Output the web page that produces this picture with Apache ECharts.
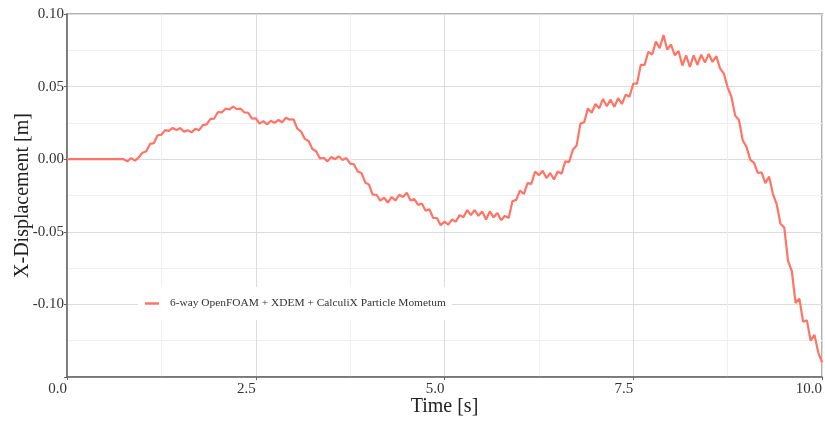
<!DOCTYPE html>
<html>
<head>
<meta charset="utf-8">
<script src="https://cdn.jsdelivr.net/npm/echarts@6/dist/echarts.min.js"></script>
<style>
html,body{margin:0;padding:0;background:#fff;}
#chart{width:825px;height:421px;}
</style>
</head>
<body>
<div id="chart"></div>
<script>
const seriesName = '6-way OpenFOAM + XDEM + CalculiX Particle Mometum';
const xTicks = [0, 2.5, 5, 7.5, 10];
const yTicks = [-0.10, -0.05, 0.00, 0.05, 0.10];

const timeS = [
0.00,0.75,0.80,0.85,0.90,0.95,
1.00,1.05,1.10,1.15,1.20,1.25,1.30,1.35,1.40,1.45,1.50,1.55,1.60,1.65,1.70,1.75,1.80,1.85,1.90,1.95,
2.00,2.05,2.10,2.15,2.20,2.25,2.30,2.35,2.40,2.45,2.50,2.55,2.60,2.65,2.70,2.75,2.80,2.85,2.90,2.95,
3.00,3.05,3.10,3.15,3.20,3.25,3.30,3.35,3.40,3.45,3.50,3.55,3.60,3.65,3.70,3.75,3.80,3.85,3.90,3.95,
4.00,4.05,4.10,4.15,4.20,4.25,4.30,4.35,4.40,4.45,4.50,4.55,4.60,4.65,4.70,4.75,4.80,4.85,4.90,4.95,
5.00,5.05,5.10,5.15,5.20,5.25,5.30,5.35,5.40,5.45,5.50,5.55,5.60,5.65,5.70,5.75,5.80,5.85,5.90,5.95,
6.00,6.05,6.10,6.15,6.20,6.25,6.30,6.35,6.40,6.45,6.50,6.55,6.60,6.65,6.70,6.75,6.80,6.85,6.90,6.95,
7.00,7.05,7.10,7.15,7.20,7.25,7.30,7.35,7.40,7.45,7.50,7.55,7.60,7.65,7.70,7.75,7.80,7.85,7.90,7.95,
8.00,8.05,8.10,8.15,8.20,8.25,8.30,8.35,8.40,8.45,8.50,8.55,8.60,8.65,8.70,8.75,8.80,8.85,8.90,8.95,
9.00,9.05,9.10,9.15,9.20,9.25,9.30,9.35,9.40,9.45,9.50,9.55,9.60,9.65,9.70,9.75,9.80,9.85,9.90,9.95,
10.00
];

const dispM = [
0.0000,0.0000,-0.0015,0.0008,-0.0010,0.0012,
0.0045,0.0055,0.0105,0.0110,0.0165,0.0168,0.0200,0.0195,0.0215,0.0200,0.0215,0.0190,0.0200,0.0185,0.0210,0.0200,0.0235,0.0240,0.0278,0.0280,
0.0325,0.0322,0.0348,0.0342,0.0362,0.0345,0.0348,0.0322,0.0320,0.0280,0.0282,0.0245,0.0262,0.0240,0.0265,0.0250,0.0270,0.0255,0.0285,0.0272,
0.0275,0.0210,0.0190,0.0140,0.0125,0.0070,0.0055,0.0005,0.0010,-0.0015,0.0015,0.0000,0.0020,-0.0005,0.0008,-0.0030,-0.0035,-0.0085,-0.0095,-0.0160,
-0.0175,-0.0245,-0.0245,-0.0285,-0.0265,-0.0300,-0.0260,-0.0285,-0.0245,-0.0260,-0.0230,-0.0285,-0.0275,-0.0315,-0.0305,-0.0355,-0.0345,-0.0405,-0.0405,-0.0455,
-0.0430,-0.0450,-0.0415,-0.0430,-0.0385,-0.0400,-0.0350,-0.0385,-0.0350,-0.0390,-0.0360,-0.0415,-0.0360,-0.0400,-0.0370,-0.0420,-0.0390,-0.0405,-0.0290,-0.0280,
-0.0215,-0.0240,-0.0165,-0.0170,-0.0085,-0.0110,-0.0080,-0.0130,-0.0095,-0.0140,-0.0085,-0.0100,-0.0015,-0.0020,0.0065,0.0095,0.0245,0.0255,0.0350,0.0320,
0.0380,0.0350,0.0415,0.0365,0.0410,0.0360,0.0420,0.0380,0.0445,0.0430,0.0520,0.0520,0.0650,0.0650,0.0740,0.0720,0.0810,0.0765,0.0855,0.0755,
0.0790,0.0715,0.0745,0.0645,0.0715,0.0635,0.0715,0.0650,0.0720,0.0665,0.0725,0.0670,0.0710,0.0625,0.0590,0.0495,0.0430,0.0300,0.0270,0.0130,
0.0085,-0.0005,-0.0025,-0.0095,-0.0090,-0.0165,-0.0120,-0.0240,-0.0310,-0.0445,-0.0470,-0.0700,-0.0770,-0.0990,-0.0960,-0.1120,-0.1110,-0.1250,-0.1210,-0.1330,
-0.1400
];

const lineData = timeS.map((t, i) => [t, dispM[i]]);
const FONT = '"Liberation Serif", "DejaVu Serif", serif';
const LINE_COLOR = '#ff7466';

const chart = echarts.init(document.getElementById('chart'), null, {renderer: 'canvas'});
chart.setOption({
  animation: false,
  backgroundColor: '#ffffff',
  textStyle: {fontFamily: FONT},
  grid: {
    left: 67, right: 3, top: 14, bottom: 44,
    containLabel: false,
    outerBoundsMode: 'none',
    show: true, borderColor: '#9a9a9a', borderWidth: 1.5,
    backgroundColor: 'transparent'
  },
  legend: {
    left: 138, top: 287,
    padding: [11, 6, 11, 7],
    backgroundColor: '#ffffff',
    icon: 'rect',
    itemWidth: 14, itemHeight: 2.5,
    textStyle: {fontFamily: FONT, fontSize: 11.4, color: '#333', padding: [0, 0, 0, 6]},
    data: [seriesName]
  },
  xAxis: {
    type: 'value',
    min: xTicks[0], max: xTicks[xTicks.length - 1], interval: 2.5,
    name: 'Time [s]', nameLocation: 'middle', nameGap: 20, nameMoveOverlap: false,
    nameTextStyle: {fontFamily: FONT, fontSize: 20, color: '#222'},
    axisLine: {show: true, onZero: false, lineStyle: {color: '#666', width: 1.5}},
    axisTick: {show: true, length: 3, lineStyle: {color: '#666'}},
    axisLabel: {
      fontFamily: FONT, fontSize: 15, color: '#333', align: 'right', margin: 5,
      formatter: v => v.toFixed(1)
    },
    splitLine: {show: true, lineStyle: {color: '#dcdcdc', width: 1}},
    minorTick: {show: false, splitNumber: 2},
    minorSplitLine: {show: true, lineStyle: {color: '#efefef', width: 1}}
  },
  yAxis: {
    type: 'value',
    min: -0.15, max: yTicks[yTicks.length - 1], interval: 0.05,
    name: 'X-Displacement [m]', nameLocation: 'middle', nameGap: 34, nameMoveOverlap: false,
    nameTextStyle: {fontFamily: FONT, fontSize: 20, color: '#222'},
    axisLine: {show: true, onZero: false, lineStyle: {color: '#666', width: 1.5}},
    axisTick: {show: true, length: 3, lineStyle: {color: '#666'}},
    axisLabel: {
      fontFamily: FONT, fontSize: 15, color: '#333', margin: 3,
      formatter: v => (v < -0.12 ? '' : v.toFixed(2))
    },
    splitLine: {show: true, lineStyle: {color: '#dcdcdc', width: 1}},
    minorTick: {show: false, splitNumber: 2},
    minorSplitLine: {show: true, lineStyle: {color: '#efefef', width: 1}}
  },
  series: [{
    name: seriesName,
    type: 'line',
    data: lineData,
    showSymbol: false,
    symbol: 'none',
    lineStyle: {color: LINE_COLOR, width: 2.2},
    itemStyle: {color: LINE_COLOR},
    z: 3
  }]
});
</script>
</body>
</html>
